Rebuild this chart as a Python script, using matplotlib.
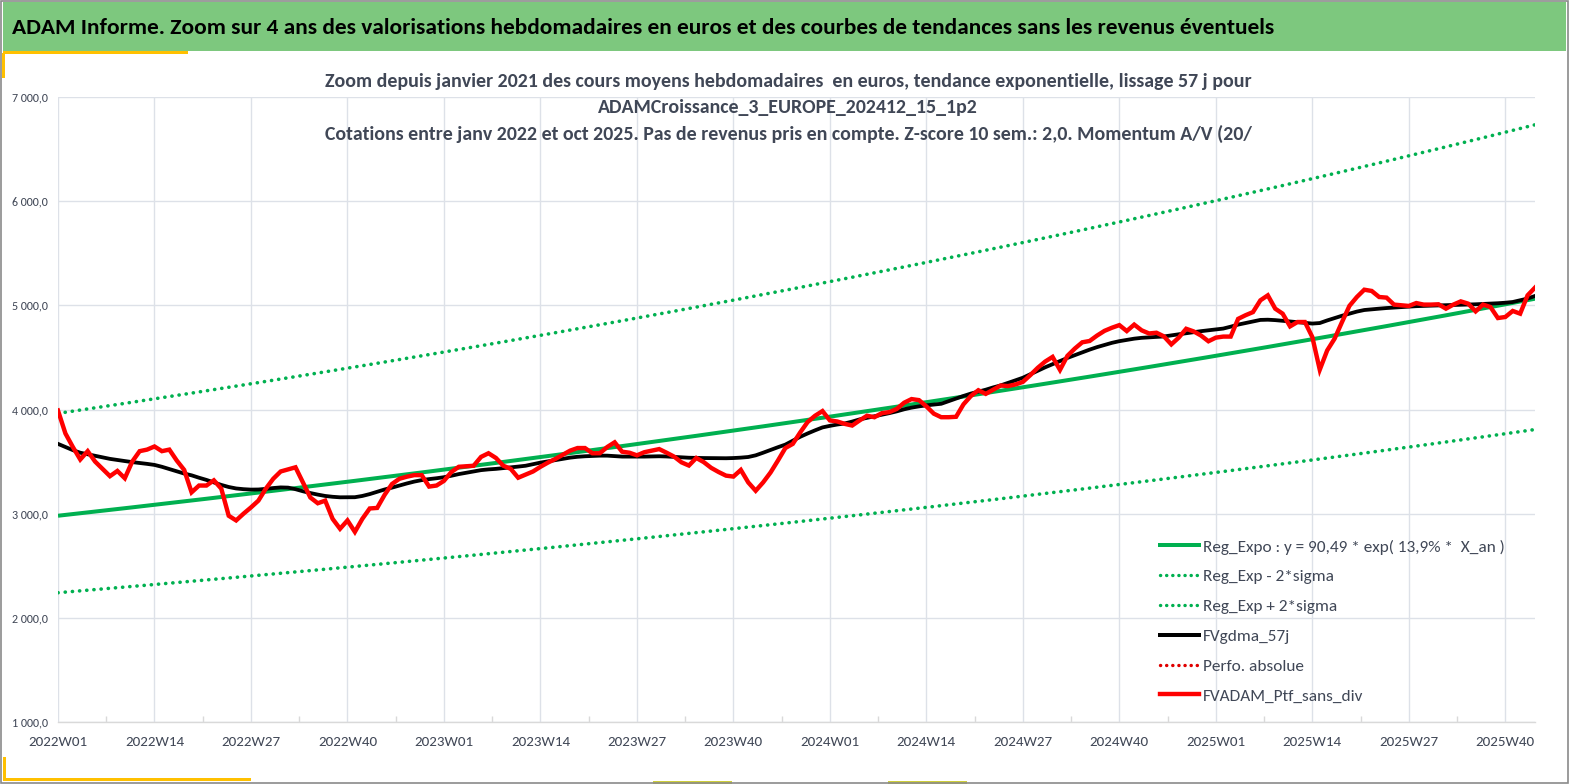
import numpy as np
import matplotlib
matplotlib.use('Agg')
import matplotlib.pyplot as plt
from matplotlib import font_manager as fm
from matplotlib.patches import Rectangle
from matplotlib.lines import Line2D
from matplotlib.ticker import FuncFormatter, FixedLocator

# ---------------- data ----------------
n_weeks = 200
week_labels = []
_y, _w = 2022, 1
for _ in range(n_weeks):
    week_labels.append(f"{_y}W{_w:02d}")
    _w += 1
    if _w > 52:
        _y += 1
        _w = 1

x_tick_labels = ['2022W01', '2022W14', '2022W27', '2022W40',
                 '2023W01', '2023W14', '2023W27', '2023W40',
                 '2024W01', '2024W14', '2024W27', '2024W40',
                 '2025W01', '2025W14', '2025W27', '2025W40']

y_ticks = [1000, 2000, 3000, 4000, 5000, 6000, 7000]

# FVADAM_Ptf_sans_div (weekly valuation, euros)
fvadam_ptf = [
    3990, 3770, 3640, 3520, 3600, 3500, 3430, 3360, 3410, 3340,
    3500, 3600, 3615, 3645, 3600, 3615, 3510, 3420, 3205, 3270,
    3270, 3320, 3240, 2980, 2935, 3000, 3060, 3125, 3240, 3335,
    3405, 3425, 3445, 3300, 3155, 3100, 3125, 2950, 2855, 2935,
    2825, 2950, 3050, 3055, 3180, 3285, 3335, 3355, 3370, 3370,
    3260, 3270, 3315, 3400, 3450, 3455, 3460, 3545, 3580, 3535,
    3460, 3430, 3345, 3375, 3405, 3450, 3490, 3525, 3565, 3605,
    3630, 3630, 3580, 3580, 3640, 3685, 3595, 3585, 3560, 3590,
    3605, 3620, 3585, 3548, 3493, 3462, 3535, 3495, 3440, 3400,
    3365, 3356, 3420, 3300, 3220, 3300, 3395, 3510, 3630, 3670,
    3780, 3880, 3940, 3985, 3895, 3885, 3862, 3846, 3895, 3940,
    3926, 3965, 3975, 4005, 4065, 4100, 4090, 4030, 3960, 3926,
    3926, 3930, 4050, 4130, 4185, 4150, 4190, 4230, 4225, 4240,
    4265, 4330, 4400, 4460, 4505, 4380, 4515, 4585, 4645, 4658,
    4710, 4755, 4785, 4810, 4753, 4815, 4760, 4730, 4737, 4702,
    4625, 4690, 4775, 4750, 4710, 4655, 4690, 4700, 4700, 4870,
    4905, 4935, 5048, 5096, 4968, 4920, 4798, 4840, 4840, 4695,
    4382, 4567, 4680, 4840, 4995, 5080, 5150, 5138, 5080, 5074,
    5007, 5000, 4994, 5022, 5007, 5007, 5010, 4968, 5007, 5038,
    5016, 4942, 5007, 4984, 4878, 4888, 4946, 4920, 5096, 5170,
]

# FVgdma_57j (57-day smoothing)
fvgdma_57j = [
    3670, 3640, 3610, 3585, 3570, 3555, 3540, 3526, 3515, 3505,
    3495, 3487, 3478, 3468, 3450, 3428, 3405, 3385, 3368, 3345,
    3324, 3300, 3276, 3256, 3242, 3235, 3231, 3232, 3238, 3246,
    3252, 3250, 3235, 3215, 3198, 3183, 3170, 3162, 3157, 3157,
    3158, 3170, 3188, 3210, 3232, 3250, 3270, 3290, 3308, 3322,
    3332, 3340, 3350, 3364, 3380, 3393, 3405, 3418, 3425, 3430,
    3437, 3445, 3452, 3460, 3475, 3490, 3502, 3515, 3527, 3538,
    3546, 3551, 3554, 3557, 3557, 3553, 3548, 3548, 3548, 3548,
    3550, 3551, 3549, 3545, 3541, 3537, 3535, 3534, 3533, 3532,
    3532, 3534, 3538, 3544, 3560, 3585, 3612, 3638, 3663, 3700,
    3738, 3770, 3800, 3828, 3843, 3856, 3866, 3884, 3905, 3920,
    3935, 3950, 3965, 3982, 4002, 4018, 4030, 4040, 4048, 4055,
    4080, 4105, 4130, 4153, 4172, 4190, 4212, 4231, 4255, 4280,
    4305, 4338, 4372, 4405, 4435, 4465, 4495, 4522, 4548, 4575,
    4599, 4620, 4640, 4656, 4668, 4680, 4688, 4693, 4697, 4701,
    4712, 4722, 4732, 4743, 4752, 4760, 4768, 4777, 4795, 4815,
    4830, 4845, 4860, 4862, 4858, 4852, 4845, 4838, 4830, 4825,
    4830, 4855, 4878, 4900, 4920, 4940, 4955, 4962, 4968, 4974,
    4978, 4983, 4988, 4992, 4995, 4997, 4999, 5000, 5002, 5005,
    5007, 5010, 5013, 5016, 5020, 5025, 5032, 5048, 5065, 5090,
]

# Regression parameters (from the legend: y = 90,49 * exp(13,9% * X_an))
reg_a = 90.49
reg_rate = 0.139
x_an_first = 25.14        # X_an (years) at 2022W01
weeks_per_year = 52.18
reg_sigma = 0.1425        # log-sigma of the residuals

legend_labels = ['Reg_Expo : y = 90,49 * exp( 13,9% *  X_an )',
                 'Reg_Exp - 2*sigma',
                 'Reg_Exp + 2*sigma',
                 'FVgdma_57j',
                 'Perfo. absolue',
                 'FVADAM_Ptf_sans_div']

title_bar = ("ADAM Informe. Zoom sur 4 ans des valorisations hebdomadaires en euros "
             "et des courbes de tendances sans les revenus éventuels")
chart_title = ["Zoom depuis janvier 2021 des cours moyens hebdomadaires  en euros, tendance exponentielle, lissage 57 j pour",
               "ADAMCroissance_3_EUROPE_202412_15_1p2",
               "Cotations entre janv 2022 et oct 2025. Pas de revenus pris en compte. Z-score 10 sem.: 2,0. Momentum A/V (20/"]

# ---------------- derived series ----------------
x = np.arange(n_weeks)
x_an = x_an_first + x / weeks_per_year
reg = reg_a * np.exp(reg_rate * x_an)
reg_lo = reg * np.exp(-2 * reg_sigma)
reg_hi = reg * np.exp(2 * reg_sigma)

# ---------------- style ----------------
names = {f.name for f in fm.fontManager.ttflist}
FONT = 'DejaVu Sans'
for cand in ['Carlito', 'Lato', 'Open Sans', 'Liberation Sans']:
    if cand in names:
        FONT = cand
        break
plt.rcParams['font.family'] = [FONT, 'DejaVu Sans']

W, H = 1569, 784
fig = plt.figure(figsize=(W / 100, H / 100), dpi=100)
fig.patch.set_facecolor('white')


def fx(px):
    return px / W


def fy(py):
    return 1 - py / H


def pt(px):
    return px * 72 / 100


GREEN = '#00B050'
TXT = '#404756'
GRID = '#DDE1E8'

ax = fig.add_axes([fx(58), fy(722), fx(1535) - fx(58), fy(97) - fy(722)])
ax.set_xlim(0, n_weeks - 1)
ax.set_ylim(1000, 7000)

dot = (0, (0.05, 1.95))
ax.plot(x, reg_lo, color=GREEN, lw=pt(3.6), ls=dot, dash_capstyle='round', zorder=3)
ax.plot(x, reg_hi, color=GREEN, lw=pt(3.6), ls=dot, dash_capstyle='round', zorder=3)
ax.plot(x, reg, color=GREEN, lw=pt(4.0), solid_capstyle='butt', zorder=4)
ax.plot(x, fvgdma_57j, color='black', lw=pt(3.8), zorder=5)
ax.plot(x, fvadam_ptf, color='#FF0000', lw=pt(4.4), solid_joinstyle='miter', zorder=6)

tick_pos = [week_labels.index(l) for l in x_tick_labels]
ax.xaxis.set_major_locator(FixedLocator(tick_pos))
ax.set_xticklabels(x_tick_labels)
ax.xaxis.set_minor_locator(FixedLocator([p + 6.5 for p in tick_pos]))
ax.set_yticks(y_ticks)
ax.yaxis.set_major_formatter(FuncFormatter(
    lambda v, p: f"{v:,.1f}".replace(',', ' ').replace('.', ',')))
ax.grid(True, which='major', color=GRID, lw=1.0, zorder=0)
ax.set_axisbelow(True)
for s in ['top', 'right', 'left']:
    ax.spines[s].set_visible(False)
ax.spines['bottom'].set_color('#D9D9D9')
ax.spines['bottom'].set_linewidth(1.0)
ax.tick_params(axis='x', which='major', length=0, pad=pt(14), labelsize=pt(15), labelcolor=TXT)
ax.tick_params(axis='x', which='minor', length=4, width=1, direction='in', color='#D9D9D9')
ax.tick_params(axis='y', length=0, pad=pt(10), labelsize=pt(12), labelcolor=TXT)

# ---------------- decorations ----------------
def frect(x0, y0, x1, y1, **kw):
    fig.add_artist(Rectangle((fx(x0), fy(y1)), fx(x1) - fx(x0), fy(y0) - fy(y1),
                             transform=fig.transFigure, **kw))

frect(3, 2, 1566, 51, facecolor='#7DC87E', edgecolor='none', zorder=1)
frect(3, 51, 188, 53.5, facecolor='#FFC000', edgecolor='none', zorder=2)
frect(2, 53, 5, 78, facecolor='#FFC000', edgecolor='none', zorder=2)
frect(3, 778, 251, 781, facecolor='#FFC000', edgecolor='none', zorder=2)
frect(3, 757, 6, 781, facecolor='#FFC000', edgecolor='none', zorder=2)
frect(653, 781, 732, 784, facecolor='#CFCF3A', edgecolor='none', zorder=2)
frect(888, 781, 967, 784, facecolor='#CFCF3A', edgecolor='none', zorder=2)
frect(0.75, 0.75, 1567.5, 782.5, facecolor='none', edgecolor='#8A8A8A', lw=1.2, zorder=3)

t_bar = fig.text(fx(12), fy(28), title_bar, ha='left', va='center', fontsize=16,
                 fontweight='bold', color='black', zorder=5)
t1 = fig.text(fx(788), fy(82), chart_title[0], ha='center', va='center', fontsize=13,
              fontweight='bold', color=TXT)
t2 = fig.text(fx(788), fy(108), chart_title[1], ha='center', va='center', fontsize=13,
              fontweight='bold', color=TXT)
t3 = fig.text(fx(788), fy(134), chart_title[2], ha='center', va='center', fontsize=13,
              fontweight='bold', color=TXT)

fig.canvas.draw()
R = fig.canvas.get_renderer()


def fit(t, target):
    w = t.get_window_extent(R).width
    t.set_fontsize(t.get_fontsize() * target / w)


fit(t_bar, 1264)
fit(t1, 926)
t2.set_fontsize(t1.get_fontsize())
t3.set_fontsize(t1.get_fontsize())

# ---------------- legend ----------------
ldot = (0, (0.05, 1.75))
handles = [Line2D([], [], color=GREEN, lw=pt(4.0)),
           Line2D([], [], color=GREEN, lw=pt(3.4), ls=ldot, dash_capstyle='round'),
           Line2D([], [], color=GREEN, lw=pt(3.4), ls=ldot, dash_capstyle='round'),
           Line2D([], [], color='black', lw=pt(4.0)),
           Line2D([], [], color='#E00000', lw=pt(3.4), ls=ldot, dash_capstyle='round'),
           Line2D([], [], color='#FF0000', lw=pt(4.4))]


def make_legend(fs, spacing, top_px, pad_px):
    fs_px = fs * 100 / 72
    leg = ax.legend(handles, legend_labels, loc='upper left',
                    bbox_to_anchor=(fx(1160), fy(top_px)), bbox_transform=fig.transFigure,
                    frameon=False, fontsize=fs, handlelength=39 / fs_px,
                    handletextpad=pad_px / fs_px, labelspacing=spacing,
                    borderpad=0, borderaxespad=0, labelcolor=TXT)
    return leg

fs = pt(16)
leg = make_legend(fs, 0.6, 535, 4)
fig.canvas.draw()
w0 = leg.get_texts()[0].get_window_extent(R).width
fs = fs * 302 / w0
leg = make_legend(fs, 0.6, 535, 4)
fig.canvas.draw()
texts = leg.get_texts()
c = [(tt.get_window_extent(R).y0 + tt.get_window_extent(R).y1) / 2 for tt in texts]
pitch = (c[0] - c[-1]) / 5
fs_px = fs * 100 / 72
spacing = 0.6 + (29.9 - pitch) / fs_px
leg = make_legend(fs, spacing, 535, 4)
fig.canvas.draw()
e0 = leg.get_texts()[0].get_window_extent(R)
cy = H - (e0.y0 + e0.y1) / 2
top = 535 + (547 - cy)
x0 = e0.x0
pad = 4 + (1203 - x0)
leg = make_legend(fs, spacing, top, pad)

fig.savefig('out.png', dpi=100, facecolor='white')
